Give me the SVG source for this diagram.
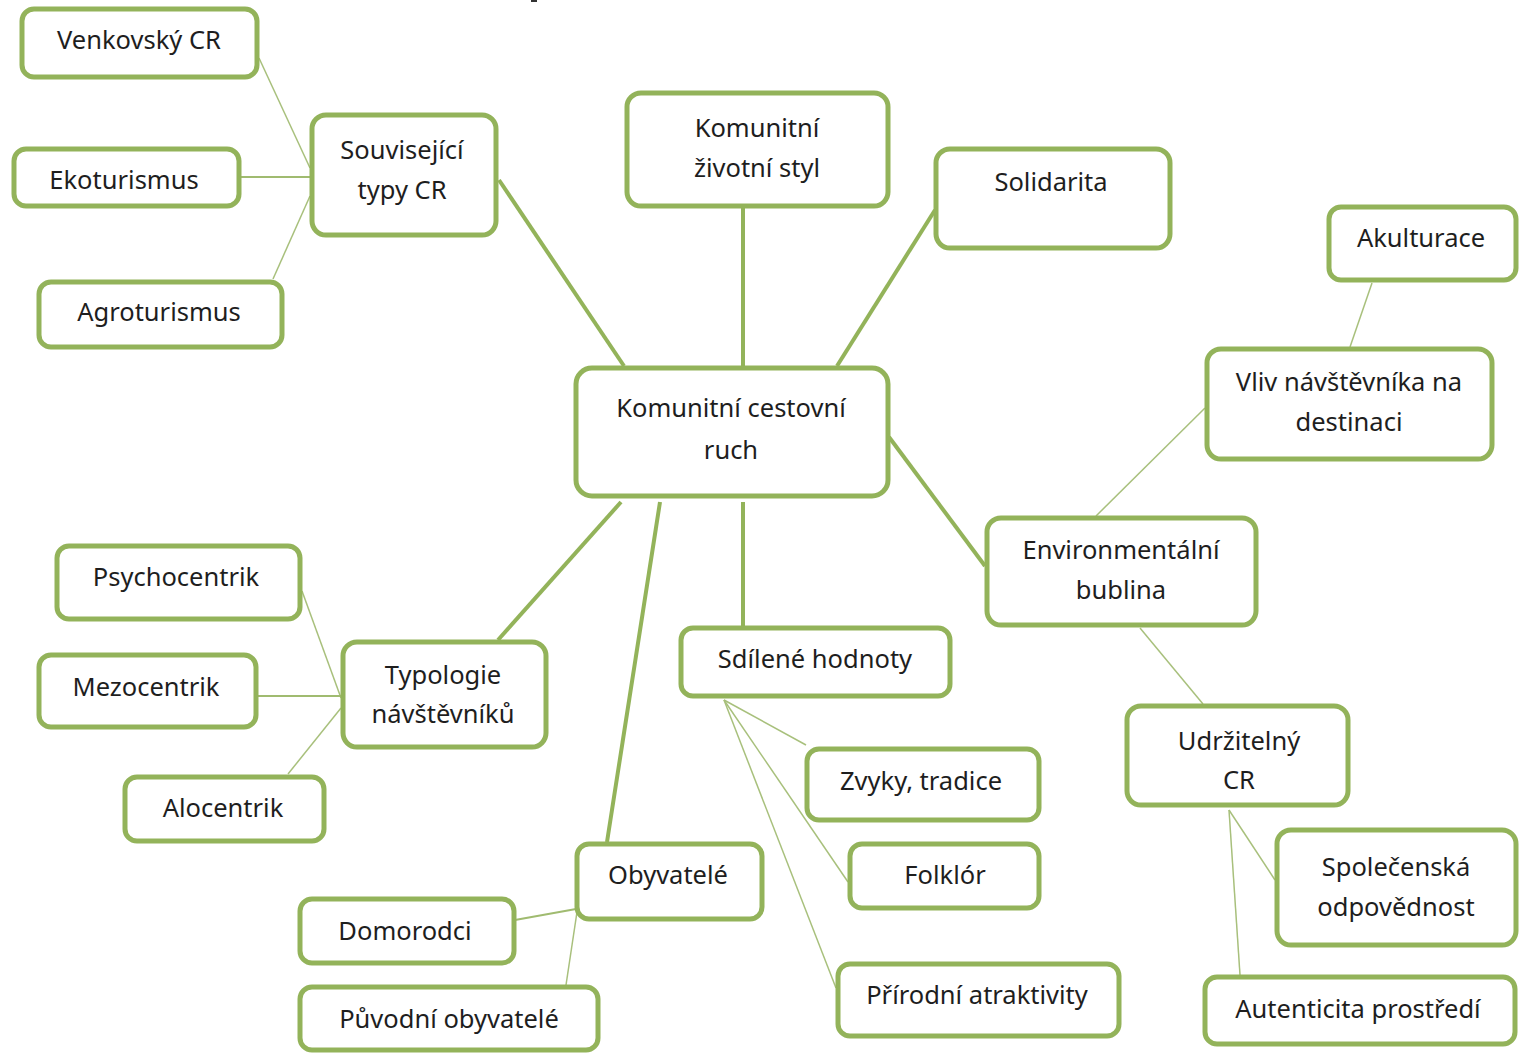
<svg xmlns="http://www.w3.org/2000/svg" width="1519" height="1054" viewBox="0 0 1519 1054">
<style>
.box{fill:#fff;stroke:#93b35a;stroke-width:5}
.t{font-family:"Noto Sans","Open Sans",sans-serif;font-size:25.5px;fill:#1e1e1e;text-anchor:middle}
.thick{stroke:#93b35a;stroke-width:4;fill:none}
.thin{stroke:#a8c07c;stroke-width:1.5;fill:none}
.mid{stroke:#a0bb70;stroke-width:2.2;fill:none}
</style>
<rect width="1519" height="1054" fill="#fff"/>
<rect x="531" y="0" width="6" height="2" fill="#333"/>
<g id="connectors">
<line class="thick" x1="499" y1="180" x2="624" y2="366"/>
<line class="thick" x1="743" y1="207" x2="743" y2="366"/>
<line class="thick" x1="935" y1="210" x2="837" y2="366"/>
<line class="thick" x1="889" y1="437" x2="985" y2="566"/>
<line class="thick" x1="621" y1="502" x2="498" y2="640"/>
<line class="thick" x1="660" y1="502" x2="607" y2="842"/>
<line class="thick" x1="743" y1="502" x2="743" y2="626"/>
<line class="thin" x1="259" y1="58" x2="310" y2="168"/>
<line class="mid" x1="240" y1="177" x2="310" y2="177"/>
<line class="thin" x1="273" y1="279" x2="310" y2="196"/>
<line class="thin" x1="1372" y1="283" x2="1350" y2="347"/>
<line class="thin" x1="1205" y1="408" x2="1096" y2="516"/>
<line class="thin" x1="1140" y1="628" x2="1203" y2="704"/>
<line class="thin" x1="302" y1="591" x2="341" y2="698"/>
<line class="mid" x1="257" y1="696" x2="341" y2="696"/>
<line class="thin" x1="288" y1="774" x2="341" y2="708"/>
<line class="thin" x1="724" y1="700" x2="806" y2="745"/>
<line class="thin" x1="724" y1="700" x2="848" y2="882"/>
<line class="thin" x1="724" y1="700" x2="836" y2="988"/>
<line class="mid" x1="576" y1="909" x2="515" y2="920"/>
<line class="thin" x1="577" y1="912" x2="566" y2="985"/>
<line class="thin" x1="1229" y1="810" x2="1275" y2="880"/>
<line class="thin" x1="1229" y1="810" x2="1240" y2="975"/>
</g>
<g id="venkovsky"><rect class="box" x="22" y="9" width="235" height="68" rx="12"/><text class="t" x="139" y="49">Venkovský CR</text></g>
<g id="ekoturismus"><rect class="box" x="14" y="149" width="225" height="57" rx="12"/><text class="t" x="124" y="189">Ekoturismus</text></g>
<g id="agroturismus"><rect class="box" x="39" y="282" width="243" height="65" rx="12"/><text class="t" x="159" y="321">Agroturismus</text></g>
<g id="souvisejici"><rect class="box" x="312" y="115" width="184" height="120" rx="14"/><text class="t" x="402" y="159">Související</text><text class="t" x="402" y="199">typy CR</text></g>
<g id="zivotni-styl"><rect class="box" x="627" y="93" width="261" height="113" rx="14"/><text class="t" x="757" y="137">Komunitní</text><text class="t" x="757" y="177">životní styl</text></g>
<g id="solidarita"><rect class="box" x="936" y="149" width="234" height="99" rx="14"/><text class="t" x="1051" y="191">Solidarita</text></g>
<g id="akulturace"><rect class="box" x="1329" y="207" width="187" height="73" rx="12"/><text class="t" x="1421" y="247">Akulturace</text></g>
<g id="vliv"><rect class="box" x="1207" y="349" width="285" height="110" rx="14"/><text class="t" x="1349" y="391">Vliv návštěvníka na</text><text class="t" x="1349" y="431">destinaci</text></g>
<g id="center"><rect class="box" x="576" y="368" width="312" height="128" rx="16"/><text class="t" x="731" y="417">Komunitní cestovní</text><text class="t" x="731" y="459">ruch</text></g>
<g id="environmentalni"><rect class="box" x="987" y="518" width="269" height="107" rx="14"/><text class="t" x="1121" y="559">Environmentální</text><text class="t" x="1121" y="599">bublina</text></g>
<g id="psychocentrik"><rect class="box" x="57" y="546" width="243" height="73" rx="12"/><text class="t" x="176" y="586">Psychocentrik</text></g>
<g id="mezocentrik"><rect class="box" x="39" y="655" width="217" height="72" rx="12"/><text class="t" x="146" y="696">Mezocentrik</text></g>
<g id="typologie"><rect class="box" x="343" y="642" width="203" height="105" rx="14"/><text class="t" x="443" y="684">Typologie</text><text class="t" x="443" y="723">návštěvníků</text></g>
<g id="alocentrik"><rect class="box" x="125" y="777" width="199" height="64" rx="12"/><text class="t" x="223" y="817">Alocentrik</text></g>
<g id="sdilene"><rect class="box" x="681" y="628" width="269" height="68" rx="12"/><text class="t" x="815" y="668">Sdílené hodnoty</text></g>
<g id="zvyky"><rect class="box" x="807" y="749" width="232" height="71" rx="12"/><text class="t" x="921" y="790">Zvyky, tradice</text></g>
<g id="folklor"><rect class="box" x="850" y="844" width="189" height="64" rx="12"/><text class="t" x="945" y="884">Folklór</text></g>
<g id="prirodni"><rect class="box" x="838" y="964" width="281" height="72" rx="12"/><text class="t" x="977" y="1004">Přírodní atraktivity</text></g>
<g id="obyvatele"><rect class="box" x="577" y="844" width="185" height="75" rx="12"/><text class="t" x="668" y="884">Obyvatelé</text></g>
<g id="domorodci"><rect class="box" x="300" y="899" width="214" height="64" rx="12"/><text class="t" x="405" y="940">Domorodci</text></g>
<g id="puvodni"><rect class="box" x="300" y="987" width="298" height="63" rx="12"/><text class="t" x="449" y="1028">Původní obyvatelé</text></g>
<g id="udrzitelny"><rect class="box" x="1127" y="706" width="221" height="99" rx="14"/><text class="t" x="1239" y="750">Udržitelný</text><text class="t" x="1239" y="789">CR</text></g>
<g id="spolecenska"><rect class="box" x="1277" y="830" width="239" height="115" rx="14"/><text class="t" x="1396" y="876">Společenská</text><text class="t" x="1396" y="916">odpovědnost</text></g>
<g id="autenticita"><rect class="box" x="1205" y="977" width="310" height="67" rx="12"/><text class="t" x="1358" y="1018">Autenticita prostředí</text></g>
</svg>
